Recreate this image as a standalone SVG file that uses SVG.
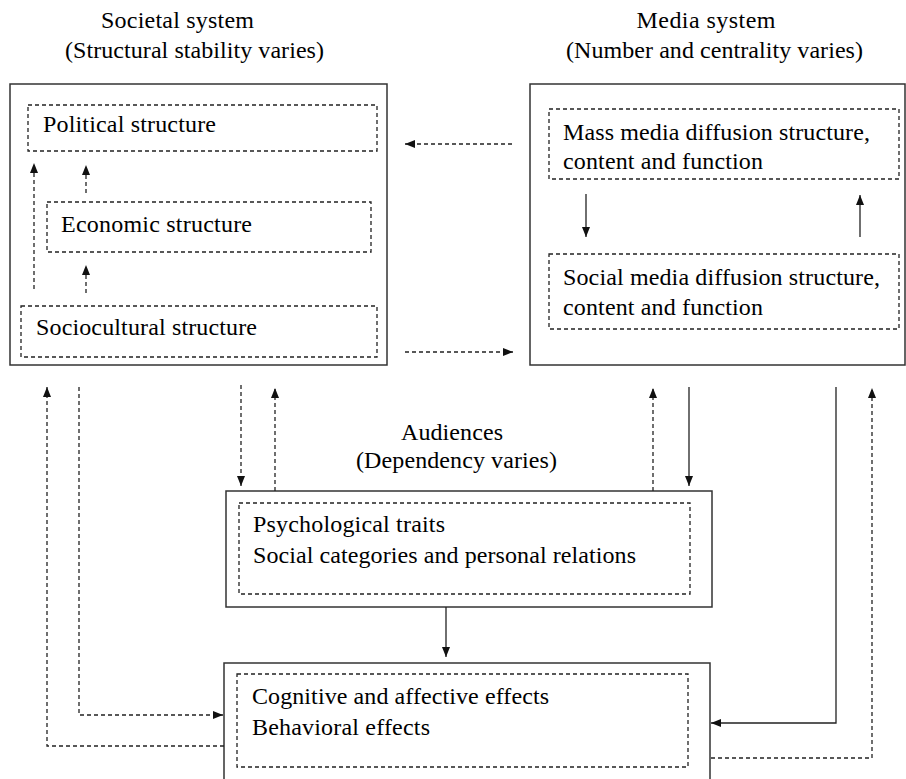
<svg xmlns="http://www.w3.org/2000/svg" width="906" height="779" viewBox="0 0 906 779">
<style>
  text { font-family: 'Liberation Serif', 'DejaVu Serif', serif; font-size: 24px; fill: #000; }
  .box { fill: none; stroke: #333; stroke-width: 1.5; }
  .dbox { fill: none; stroke: #222; stroke-width: 1.3; stroke-dasharray: 4 3; }
  .c { fill: none; stroke: #222; stroke-width: 1.3; }
  .d { stroke-dasharray: 4 3; }
</style>
<defs>
  <marker id="ah" markerUnits="userSpaceOnUse" markerWidth="10" markerHeight="10" viewBox="0 0 10 10" refX="10" refY="5" orient="auto">
    <path d="M0,1 L10,5 L0,9 Z" fill="#111"/>
  </marker>
</defs>
<rect width="906" height="779" fill="#fff"/>

<g id="societal">
  <text x="177.5" y="28" text-anchor="middle" textLength="153" lengthAdjust="spacing">Societal system</text>
  <text x="194.5" y="58" text-anchor="middle" textLength="259" lengthAdjust="spacing">(Structural stability varies)</text>
  <rect class="box" x="10" y="84" width="377" height="281"/>
</g>
<g id="political">
  <rect class="dbox" x="28" y="105" width="349" height="46"/>
  <text x="43" y="132" textLength="173" lengthAdjust="spacing">Political structure</text>
</g>
<g id="economic">
  <rect class="dbox" x="47" y="202" width="324" height="50"/>
  <text x="61" y="232" textLength="191" lengthAdjust="spacing">Economic structure</text>
</g>
<g id="sociocultural">
  <rect class="dbox" x="21" y="306" width="356" height="51"/>
  <text x="36" y="335" textLength="221" lengthAdjust="spacing">Sociocultural structure</text>
</g>

<g id="media">
  <text x="706" y="28" text-anchor="middle" textLength="139" lengthAdjust="spacing">Media system</text>
  <text x="714.5" y="58" text-anchor="middle" textLength="297" lengthAdjust="spacing">(Number and centrality varies)</text>
  <rect class="box" x="530" y="84" width="375" height="281"/>
</g>
<g id="massmedia">
  <rect class="dbox" x="549" y="109" width="350" height="70"/>
  <text x="563" y="140" textLength="307" lengthAdjust="spacing">Mass media diffusion structure,</text>
  <text x="563" y="169" textLength="200" lengthAdjust="spacing">content and function</text>
</g>
<g id="socialmedia">
  <rect class="dbox" x="549" y="254" width="350" height="75"/>
  <text x="563" y="285" textLength="317" lengthAdjust="spacing">Social media diffusion structure,</text>
  <text x="563" y="315" textLength="200" lengthAdjust="spacing">content and function</text>
</g>

<g id="audiences">
  <text x="452" y="440" text-anchor="middle" textLength="102" lengthAdjust="spacing">Audiences</text>
  <text x="456.5" y="468" text-anchor="middle" textLength="201" lengthAdjust="spacing">(Dependency varies)</text>
  <rect class="box" x="226" y="491" width="486" height="116"/>
  <rect class="dbox" x="239" y="503" width="451" height="91"/>
  <text x="253" y="532" textLength="192" lengthAdjust="spacing">Psychological traits</text>
  <text x="253" y="563" textLength="383" lengthAdjust="spacing">Social categories and personal relations</text>
</g>

<g id="effects">
  <rect class="box" x="224" y="663" width="486" height="130"/>
  <rect class="dbox" x="237" y="674" width="451" height="93"/>
  <text x="252" y="704" textLength="297" lengthAdjust="spacing">Cognitive and affective effects</text>
  <text x="252" y="735" textLength="178" lengthAdjust="spacing">Behavioral effects</text>
</g>

<g id="connectors">
  <path class="c d" d="M34,289 V163" marker-end="url(#ah)"/>
  <path class="c d" d="M86,293 V265" marker-end="url(#ah)"/>
  <path class="c d" d="M86,193 V165" marker-end="url(#ah)"/>
  <path class="c d" d="M512,144 H405" marker-end="url(#ah)"/>
  <path class="c d" d="M405,352 H513" marker-end="url(#ah)"/>
  <path class="c" d="M586,194 V237" marker-end="url(#ah)"/>
  <path class="c" d="M860,237 V195" marker-end="url(#ah)"/>
  <path class="c d" d="M241,385 V486" marker-end="url(#ah)"/>
  <path class="c d" d="M275,491 V388" marker-end="url(#ah)"/>
  <path class="c d" d="M653,491 V388" marker-end="url(#ah)"/>
  <path class="c" d="M689,387 V486" marker-end="url(#ah)"/>
  <path class="c" d="M446,607 V657" marker-end="url(#ah)"/>
  <path class="c d" d="M79,387 V715 H223" marker-end="url(#ah)"/>
  <path class="c d" d="M224,746 H47 V387" marker-end="url(#ah)"/>
  <path class="c" d="M836,387 V723 H711" marker-end="url(#ah)"/>
  <path class="c d" d="M711,758 H872 V388" marker-end="url(#ah)"/>
</g>
</svg>
